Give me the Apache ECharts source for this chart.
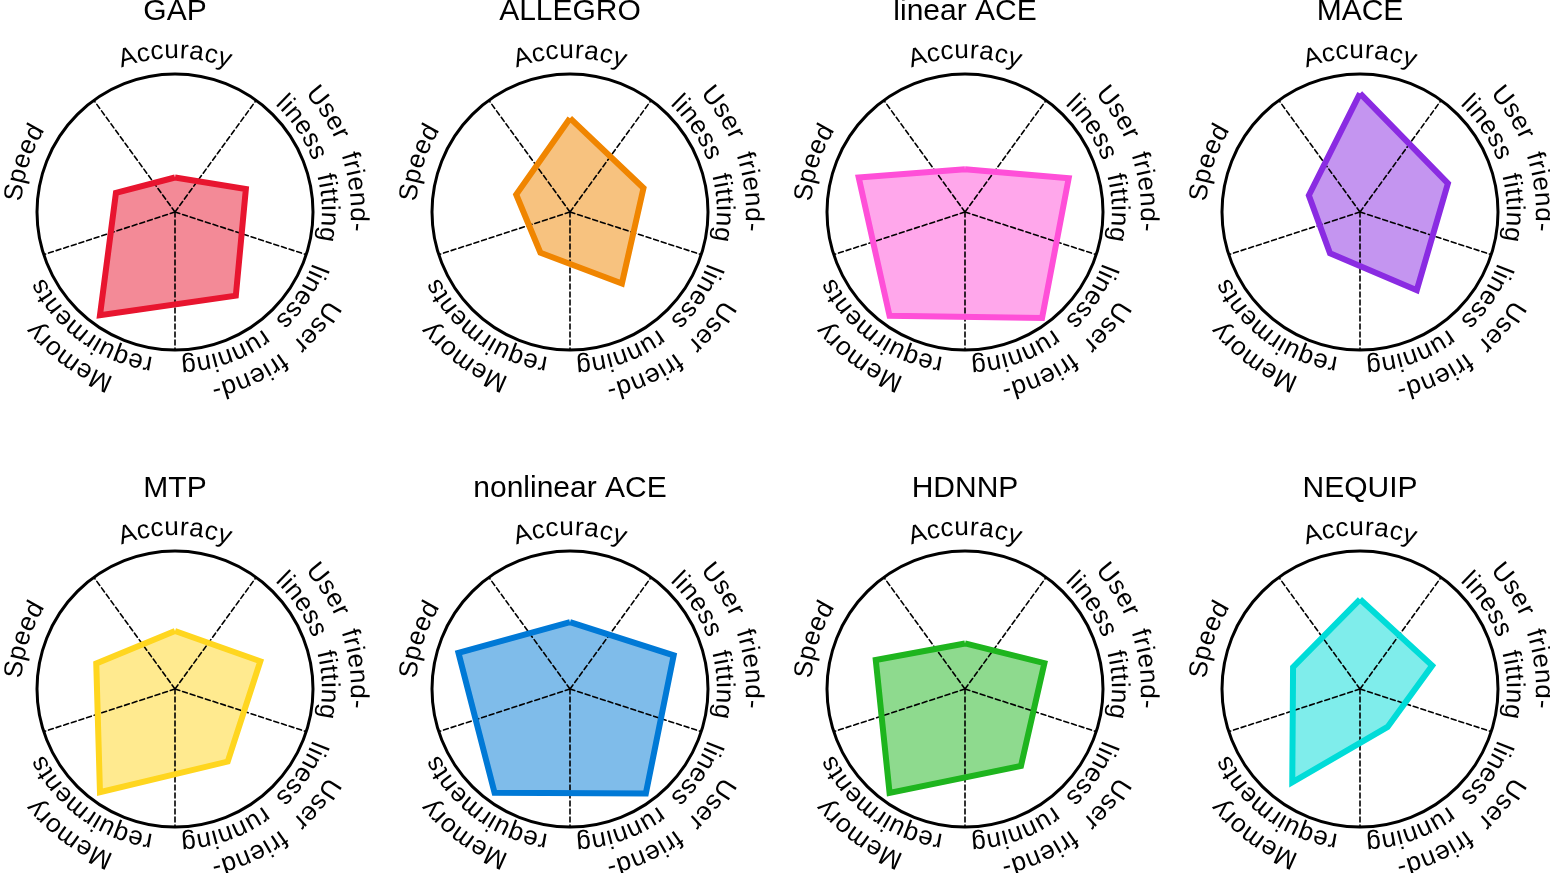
<!DOCTYPE html>
<html>
<head>
<meta charset="utf-8">
<script src="https://cdn.jsdelivr.net/npm/echarts@6/dist/echarts.min.js"></script>
<style>
html,body{margin:0;padding:0;background:#fff;}
#chart{width:1550px;height:873px;}
</style>
</head>
<body>
<div id="chart"></div>
<script>
// scores per model (outer circle = 1)
const models   = ['GAP', 'ALLEGRO', 'linear ACE', 'MACE', 'MTP', 'nonlinear ACE', 'HDNNP', 'NEQUIP'];
const accuracy = [0.25, 0.68, 0.31, 0.86, 0.42, 0.485, 0.33, 0.65];
const fitting  = [0.54, 0.56, 0.79, 0.67, 0.65, 0.79, 0.605, 0.55];
const running  = [0.75, 0.64, 0.95, 0.70, 0.65, 0.935, 0.69, 0.34];
const memory   = [0.925, 0.365, 0.93, 0.37, 0.925, 0.93, 0.93, 0.835];
const speed    = [0.45, 0.41, 0.81, 0.39, 0.60, 0.85, 0.68, 0.51];

const colors = ['#e8152f', '#f08500', '#ff4fd8', '#8a2be2', '#ffd61f', '#0079d6', '#1eb51e', '#00dcd8'];

// axis names: radar order goes counter-clockwise from the top
const axisNames = ['Accuracy', 'Speed', 'Memory requirments', 'User friendliness running', 'User friendliness fitting'];
// curved labels, clockwise angle from top, lines from outside to inside
const labelAngles = [0, 72, 144, 216, 288];
const labelLines = [
    ['Accuracy'],
    ['User friend-', 'liness fitting'],
    ['User friend-', 'liness running'],
    ['Memory', 'requirments'],
    ['Speed']
];

const colX = [175, 570, 965, 1360];
const rowY = [212, 689];
const titleY = [12, 489];
const R = 138;

const chart = echarts.init(document.getElementById('chart'));
const ctx = document.createElement('canvas').getContext('2d');

// text along an arc, one element per character
const curvedText = (cx, cy, r, thetaDeg, str, font, spacing) => {
    ctx.font = font;
    let chars = [...str];
    let ws = chars.map(ch => ch === ' ' ? ctx.measureText('n').width : ctx.measureText(ch).width);
    let total = ws.reduce((a, b) => a + b, 0) + spacing * (chars.length - 1);
    let th = thetaDeg * Math.PI / 180;
    let start = th - total / (2 * r);
    let cum = 0;
    let out = [];
    chars.forEach((ch, k) => {
        let a = start + (cum + ws[k] / 2) / r;
        cum += ws[k] + spacing;
        if (ch === ' ') return;
        out.push({
            type: 'text',
            x: cx + r * Math.sin(a),
            y: cy - r * Math.cos(a),
            rotation: -a,
            silent: true,
            style: {text: ch, font: font, fill: '#000', align: 'center', verticalAlign: 'middle'}
        });
    });
    return out;
}

let radars = [];
let series = [];
let graphics = [];
const labelFont = '26px "Liberation Sans", Arial, sans-serif';
const titleFont = '30px "Liberation Sans", Arial, sans-serif';

for (let i = 0; i < models.length; i++) {
    let cx = colX[i % 4];
    let cy = rowY[Math.floor(i / 4)];

    // frame: circle + dashed separators between the axes
    radars.push({
        center: [cx, cy], radius: R, startAngle: 54, shape: 'circle', splitNumber: 1, z: 2,
        indicator: axisNames.map(() => ({name: '', min: 0, max: 1})),
        axisName: {show: false},
        axisLine: {lineStyle: {color: '#000', width: 1.6, type: [5, 3]}},
        splitLine: {lineStyle: {color: '#000', width: 3}},
        splitArea: {show: false},
        axisTick: {show: false},
        axisLabel: {show: false}
    });
    // data radar
    radars.push({
        center: [cx, cy], radius: R, startAngle: 90, splitNumber: 1,
        indicator: axisNames.map(n => ({name: n, min: 0, max: 1})),
        axisName: {show: false},
        axisLine: {show: false},
        splitLine: {show: false},
        splitArea: {show: false},
        axisTick: {show: false},
        axisLabel: {show: false}
    });

    let values = [accuracy[i], speed[i], memory[i], running[i], fitting[i]];
    series.push({
        type: 'radar', radarIndex: 2 * i + 1, z: 1, symbol: 'none', silent: true,
        data: [{value: values, name: models[i]}],
        lineStyle: {width: 0, opacity: 0},
        areaStyle: {color: colors[i], opacity: 0.5}
    });
    series.push({
        type: 'radar', radarIndex: 2 * i + 1, z: 3, symbol: 'none', silent: true,
        data: [{value: values, name: models[i]}],
        lineStyle: {color: colors[i], width: 6, join: 'miter', opacity: 1}
    });

    graphics.push({
        type: 'text', x: cx, y: titleY[Math.floor(i / 4)], silent: true,
        style: {text: models[i], font: titleFont, fill: '#000', align: 'center', verticalAlign: 'middle'}
    });
    labelLines.forEach((lines, k) => {
        let radii = lines.length === 1 ? [161] : [183, 154];
        lines.forEach((line, j) => {
            graphics.push(...curvedText(cx, cy, radii[j], labelAngles[k], line, labelFont, 1));
        });
    });
}

chart.setOption({
    animation: false,
    radar: radars,
    series: series,
    graphic: {elements: graphics}
});
</script>
</body>
</html>
